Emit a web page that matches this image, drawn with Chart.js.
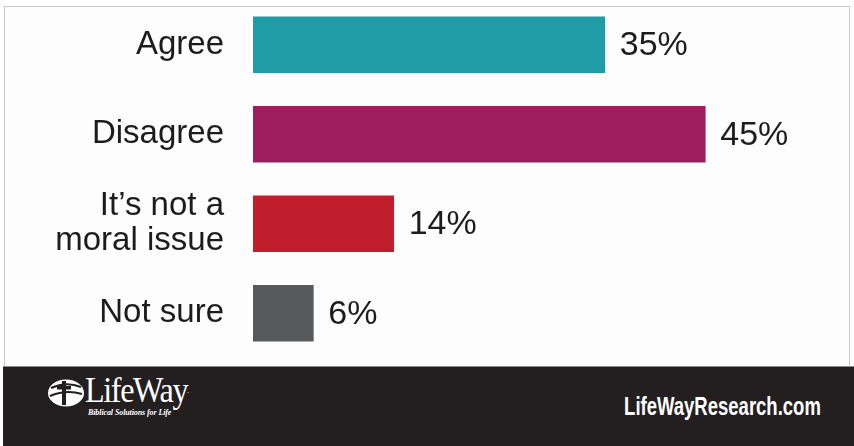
<!DOCTYPE html>
<html>
<head>
<meta charset="utf-8">
<script src="https://cdn.jsdelivr.net/npm/chart.js@4/dist/chart.umd.min.js"></script>
<style>
  html, body { margin: 0; padding: 0; background: #ffffff; }
  #wrap { position: relative; width: 854px; height: 446px; overflow: hidden; background: #ffffff; }
  #frame { position: absolute; left: 4px; top: 6px; width: 846px; height: 360px; border: 1px solid #c9c9c9; border-bottom: none; background: #fdfdfd; box-sizing: border-box; }
  #chartBox { position: absolute; left: 0; top: 0; width: 854px; height: 366px; }
  #footer { position: absolute; left: 3px; top: 366px; width: 851px; height: 80px; background: #231f20; border-top: 1px solid #8a8a8a; box-sizing: border-box; }
  #logoWord { position: absolute; left: 82px; top: 4px; color: #ffffff; font-family: "Liberation Serif", "DejaVu Serif", serif; font-size: 35px; letter-spacing: -1.5px; line-height: 40px; transform: scaleX(0.92); transform-origin: left center; }
  #logoTag { position: absolute; left: 85px; top: 41px; color: #ffffff; font-family: "Liberation Serif", serif; font-style: italic; font-weight: bold; font-size: 8px; letter-spacing: -0.1px; }
  #site { position: absolute; right: 33px; top: 26px; color: #ffffff; font-family: "Liberation Sans", Arial, sans-serif; font-weight: bold; font-size: 25px; line-height: 27px; transform: scaleX(0.74); transform-origin: right center; white-space: nowrap; }
  #icon { position: absolute; left: 42px; top: 11px; }
</style>
</head>
<body>
<div id="wrap">
  <div id="frame"></div>
  <div id="chartBox"><canvas id="c" width="854" height="366"></canvas></div>
  <div id="footer">
    <svg id="icon" width="42" height="30" viewBox="0 0 42 30">
      <ellipse cx="21" cy="15" rx="18" ry="13.5" fill="#ffffff"/>
      <path d="M6 10 Q21 3 36 9" stroke="#231f20" stroke-width="2.2" fill="none"/>
      <path d="M5 18 Q21 11 37 16" stroke="#231f20" stroke-width="2" fill="none"/>
      <rect x="17" y="3" width="4" height="24" fill="#231f20"/>
      <rect x="12" y="8" width="14" height="3.5" fill="#231f20"/>
    </svg>
    <div id="logoWord">LifeWay<span style="font-size:8px;vertical-align:top;">.</span></div>
    <div id="logoTag">Biblical Solutions for Life</div>
    <div id="site">LifeWayResearch.com</div>
  </div>
</div>
<script>
// ---- data ----
const categories = ["Agree", "Disagree", ["It\u2019s not a", "moral issue"], "Not sure"];
const values = [35, 45, 14, 6];
const barColors = ["#1f9ca6", "#9c1e5f", "#c01e2d", "#58595b"];
const valueSuffix = "%";

const valueLabels = {
  id: "valueLabels",
  afterDatasetsDraw(chart) {
    const ctx = chart.ctx;
    const meta = chart.getDatasetMeta(0);
    ctx.save();
    ctx.font = "34px 'Liberation Sans', Arial, sans-serif";
    ctx.fillStyle = "#1c1c1c";
    ctx.textAlign = "left";
    ctx.textBaseline = "middle";
    meta.data.forEach((bar, i) => {
      ctx.fillText(values[i] + valueSuffix, bar.x + 15, bar.y + 1);
    });
    ctx.restore();
  }
};

new Chart(document.getElementById("c"), {
  type: "bar",
  data: {
    labels: categories,
    datasets: [{
      data: values,
      backgroundColor: barColors,
      borderWidth: 0,
      barThickness: 56
    }]
  },
  options: {
    indexAxis: "y",
    responsive: false,
    animation: false,
    devicePixelRatio: 1,
    layout: { padding: { top: 0, bottom: 8, left: 0, right: 0 } },
    plugins: { legend: { display: false }, tooltip: { enabled: false } },
    scales: {
      x: { display: false, min: 0, max: 59.8 },
      y: {
        grid: { display: false, drawTicks: false },
        border: { display: false },
        ticks: {
          color: "#1c1c1c",
          padding: 29,
          font: { family: "'Liberation Sans', Arial, sans-serif", size: 33, lineHeight: 1.06 }
        },
        afterFit(scale) {
          scale.width = 253;
          scale.paddingTop = 0;
          scale.paddingBottom = 0;
        }
      }
    }
  },
  plugins: [valueLabels]
});
</script>
</body>
</html>
